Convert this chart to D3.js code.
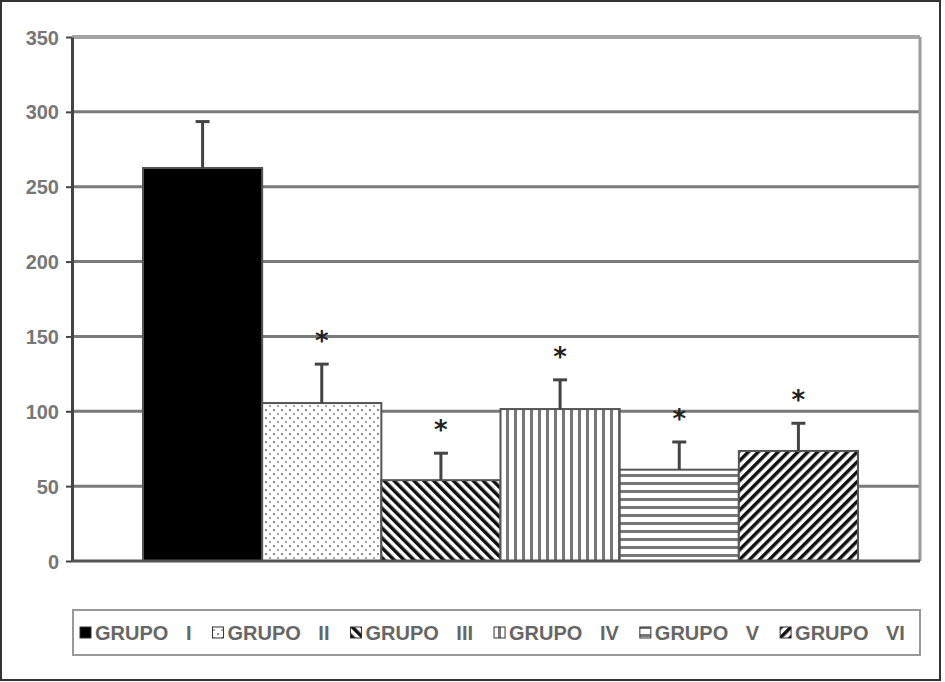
<!DOCTYPE html>
<html>
<head>
<meta charset="utf-8">
<script src="https://cdn.jsdelivr.net/npm/d3@7"></script>
<style>
  body { margin: 0; background: #fff; }
  svg { display: block; }
</style>
</head>
<body>
<svg id="chart" width="945" height="682"></svg>
<script>
// data
const groups = ["GRUPO I", "GRUPO II", "GRUPO III", "GRUPO IV", "GRUPO V", "GRUPO VI"];
const means  = [262.5, 105.5, 54, 101.5, 61, 73.5];
const errors = [31, 26, 18, 19.5, 18.5, 18.5];
const signif = [false, true, true, true, true, true];
const yTicks = [0, 50, 100, 150, 200, 250, 300, 350];
const fills  = ["solid", "dots", "diagBack", "vert", "horiz", "diagFwd"];

const svg = d3.select("#chart");
const plot = {left: 72, right: 920, top: 37, bottom: 561};

// outer frame
svg.append("rect").attr("x", 1).attr("y", 1).attr("width", 939).attr("height", 679)
    .attr("fill", "#fff").attr("stroke", "#333").attr("stroke-width", 2);

// patterns
const defs = svg.append("defs");
function pat(id, w, h, tf){
    let p = defs.append("pattern").attr("id", id).attr("patternUnits", "userSpaceOnUse")
        .attr("width", w).attr("height", h);
    if (tf) p.attr("patternTransform", tf);
    p.append("rect").attr("width", w).attr("height", h).attr("fill", "#fff");
    return p;
}
let p;
p = pat("dots", 8, 8);
p.append("rect").attr("x", 1).attr("y", 1).attr("width", 2).attr("height", 2).attr("fill", "#8a8a8a");
p.append("rect").attr("x", 5).attr("y", 5).attr("width", 2).attr("height", 2).attr("fill", "#a8a8a8");
p = pat("diagBack", 7, 7, "rotate(-45)");
p.append("rect").attr("width", 3.5).attr("height", 7).attr("fill", "#111");
p = pat("diagFwd", 7, 7, "rotate(45)");
p.append("rect").attr("width", 3.5).attr("height", 7).attr("fill", "#111");
p = pat("vert", 8, 8);
p.append("rect").attr("x", 2).attr("width", 3).attr("height", 8).attr("fill", "#777");
p = pat("horiz", 8, 8);
p.append("rect").attr("y", 2).attr("width", 8).attr("height", 3).attr("fill", "#777");

function fillOf(f){ return f === "solid" ? "#000" : "url(#" + f + ")"; }

// scales
const y = d3.scaleLinear().domain([0, 350]).range([plot.bottom, plot.top]);
const x = d3.scaleBand().domain(groups).range([143, 858]).padding(0);

// gridlines
svg.append("g").selectAll("line").data(yTicks.filter(t => t > 0 && t < 350)).join("line")
    .attr("x1", plot.left).attr("x2", plot.right)
    .attr("y1", d => y(d)).attr("y2", d => y(d))
    .attr("stroke", "#7a7a7a").attr("stroke-width", 3);

// plot border (top lighter, right side)
svg.append("line").attr("x1", plot.left).attr("x2", plot.right)
    .attr("y1", y(350)).attr("y2", y(350)).attr("stroke", "#a5a5a5").attr("stroke-width", 4);
svg.append("line").attr("x1", plot.right).attr("x2", plot.right)
    .attr("y1", y(350)).attr("y2", plot.bottom).attr("stroke", "#999").attr("stroke-width", 3);

// bars
svg.append("g").selectAll("rect").data(groups).join("rect")
    .attr("x", d => x(d))
    .attr("y", (d, i) => y(means[i]))
    .attr("width", x.bandwidth())
    .attr("height", (d, i) => plot.bottom - y(means[i]))
    .attr("fill", (d, i) => fillOf(fills[i]))
    .attr("stroke", "#555").attr("stroke-width", 2);

// error bars (upper only)
const eb = svg.append("g").attr("stroke", "#444").attr("stroke-width", 3);
groups.forEach((g, i) => {
    let cx = x(g) + x.bandwidth() / 2;
    eb.append("line").attr("x1", cx).attr("x2", cx)
        .attr("y1", y(means[i])).attr("y2", y(means[i] + errors[i]));
    eb.append("line").attr("x1", cx - 7).attr("x2", cx + 7)
        .attr("y1", y(means[i] + errors[i])).attr("y2", y(means[i] + errors[i]));
});

// significance stars
svg.append("g").selectAll("text").data(groups.filter((g, i) => signif[i])).join("text")
    .attr("x", d => x(d) + x.bandwidth() / 2)
    .attr("y", d => { let i = groups.indexOf(d); return y(means[i] + errors[i]) - 14; })
    .attr("text-anchor", "middle")
    .attr("font-family", "DejaVu Sans").attr("font-weight", "bold").attr("font-size", 26)
    .attr("fill", "#222").text("*");

// y axis
const yAxis = svg.append("g").attr("transform", `translate(${plot.left},0)`)
    .call(d3.axisLeft(y).tickValues(yTicks).tickSize(6).tickPadding(7).tickSizeOuter(0));
yAxis.select(".domain").attr("stroke", "#444").attr("stroke-width", 3);
yAxis.selectAll(".tick line").attr("stroke", "#444").attr("stroke-width", 2);
yAxis.selectAll(".tick text").attr("font-family", "Liberation Sans").attr("font-weight", "bold")
    .attr("font-size", 20).attr("fill", "#777").attr("dy", "0.35em");

// x baseline
svg.append("line").attr("x1", plot.left).attr("x2", plot.right)
    .attr("y1", plot.bottom).attr("y2", plot.bottom).attr("stroke", "#555").attr("stroke-width", 3);

// legend
svg.append("rect").attr("x", 73).attr("y", 610).attr("width", 847).attr("height", 45)
    .attr("fill", "#fff").attr("stroke", "#999").attr("stroke-width", 2);
const leg = svg.append("g");
let lx = 80;
groups.forEach((g, i) => {
    leg.append("rect").attr("x", lx).attr("y", 627).attr("width", 11).attr("height", 11)
        .attr("fill", fillOf(fills[i])).attr("stroke", "#333").attr("stroke-width", 1);
    let t = leg.append("text").attr("x", lx + 15).attr("y", 640)
        .attr("font-family", "Liberation Sans").attr("font-weight", "bold").attr("font-size", 20)
        .attr("word-spacing", 12).attr("fill", "#666").text(g);
    lx += 15 + t.node().getComputedTextLength() + 21;
});
</script>
</body>
</html>
